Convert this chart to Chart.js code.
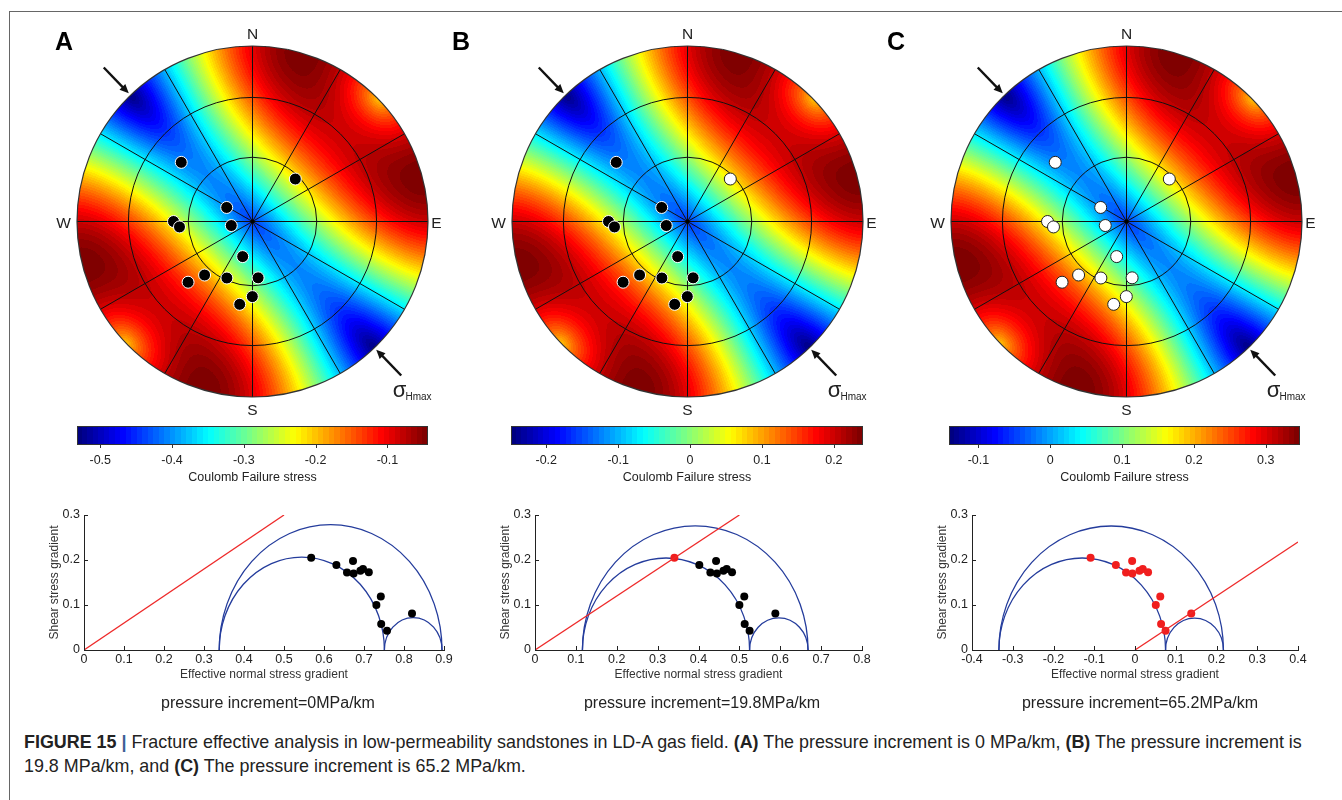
<!DOCTYPE html>
<html><head><meta charset="utf-8">
<script src="https://cdn.jsdelivr.net/npm/chart.js@4.4.1/dist/chart.umd.min.js"></script>
<style>
html,body{margin:0;padding:0;background:#fff;width:1342px;height:800px;overflow:hidden;font-family:"Liberation Sans",Arial,sans-serif;color:#222}
canvas{position:absolute}
#frame{position:absolute;left:9px;top:11px;width:2000px;height:2000px;border-left:1px solid #666;border-top:1px solid #666}
.t{position:absolute;transform:translate(-50%,-50%);white-space:nowrap;line-height:1;z-index:5}
.letter{position:absolute;font-weight:bold;font-size:25px;line-height:1;z-index:5;color:#000}
#cap{position:absolute;left:24px;top:730px;font-size:17.9px;line-height:24px;white-space:nowrap;color:#222;z-index:5}
</style></head><body>
<div id="frame"></div>
<div id="labels"></div>
<div id="cap"><b>FIGURE 15</b> <b style="color:#3d5f95">|</b> Fracture effective analysis in low-permeability sandstones in LD-A gas field. <b>(A)</b> The pressure increment is 0 MPa/km, <b>(B)</b> The pressure increment is<br>19.8 MPa/km, and <b>(C)</b> The pressure increment is 65.2 MPa/km.</div>
<script>
// ---------------- DATA ----------------
const panelNames = ['A', 'B', 'C'];
const compassLabels = ['N', 'E', 'S', 'W'];
const pressureTitles = ['pressure increment=0MPa/km', 'pressure increment=19.8MPa/km', 'pressure increment=65.2MPa/km'];

// fracture poles (equal-area stereonet, east / north, unit radius)
const poleX = [-0.406, 0.244, -0.147, -0.450, -0.416, -0.121, -0.056, -0.273, -0.367, -0.146, 0.032, -0.001, -0.073];
const poleY = [0.337, 0.242, 0.080, 0.000, -0.031, -0.023, -0.200, -0.305, -0.346, -0.322, -0.321, -0.428, -0.472];
const poleColorA = ['black','black','black','black','black','black','black','black','black','black','black','black','black'];
const poleColorB = ['black','white','black','black','black','black','black','black','black','black','black','black','black'];
const poleColorC = ['white','white','white','white','white','white','white','white','white','white','white','white','white'];

// stereonet grid
const dipRings = [30, 60];                 // degrees from vertical
const spokes = [0, 30, 60, 90, 120, 150, 180, 210, 240, 270, 300, 330];
const shmaxAz = 136;                       // sigma Hmax azimuth (deg)
const mu = 0.6;                            // friction coefficient

// colorbars
const cbarRangeA = [-0.5324, -0.0435];
const cbarRangeB = [-0.249, 0.2405];
const cbarRangeC = [-0.141, 0.3476];
const cbarTicksA = [-0.5, -0.4, -0.3, -0.2, -0.1];
const cbarTicksB = [-0.2, -0.1, 0, 0.1, 0.2];
const cbarTicksC = [-0.1, 0, 0.1, 0.2, 0.3];

// Mohr diagrams: principal effective stresses [s3, s2, s1]
const stressA = [0.338, 0.751, 0.895];
const stressB = [0.116, 0.525, 0.668];
const stressC = [-0.334, 0.075, 0.217];
const mohrAX = [0.568, 0.631, 0.6725, 0.6575, 0.674, 0.691, 0.6975, 0.712, 0.731, 0.742, 0.743, 0.7575, 0.820];
const mohrBX = [0.341, 0.402, 0.443, 0.429, 0.445, 0.461, 0.469, 0.482, 0.500, 0.512, 0.513, 0.525, 0.588];
const mohrCX = [-0.109, -0.047, -0.007, -0.022, -0.0065, 0.011, 0.019, 0.032, 0.051, 0.062, 0.064, 0.075, 0.138];
const mohrY  = [0.205, 0.189, 0.198, 0.172, 0.170, 0.176, 0.180, 0.173, 0.100, 0.119, 0.058, 0.043, 0.081];
const mohrColorA = ['black','black','black','black','black','black','black','black','black','black','black','black','black'];
const mohrColorB = ['red','black','black','black','black','black','black','black','black','black','black','black','black'];
const mohrColorC = ['red','red','red','red','red','red','red','red','red','red','red','red','red'];
const frictionXA = [0, 0.5], frictionYA = [0, 0.3];
const frictionXB = [0, 0.5], frictionYB = [0, 0.3];
const frictionXC = [0, 0.4], frictionYC = [0, 0.24];
const mohrXTicksA = [0, 0.1, 0.2, 0.3, 0.4, 0.5, 0.6, 0.7, 0.8, 0.9];
const mohrXTicksB = [0, 0.1, 0.2, 0.3, 0.4, 0.5, 0.6, 0.7, 0.8];
const mohrXTicksC = [-0.4, -0.3, -0.2, -0.1, 0, 0.1, 0.2, 0.3, 0.4];
const mohrYTicks = [0, 0.1, 0.2, 0.3];

// ---------------- LAYOUT ----------------
const FONT = "'Liberation Sans', Arial, sans-serif";
Chart.defaults.font.family = FONT;
Chart.defaults.color = '#222';
const layout = [
  {cx: 252.5, cy: 221.5, cbar: [77, 428, 426, 445], mohr: [84, 444, 515, 650], title: [268, 703], letter: [55, 29]},
  {cx: 687.5, cy: 221.5, cbar: [511, 863, 426, 445], mohr: [535, 862, 515, 650], title: [702, 703], letter: [452, 29]},
  {cx: 1126.5, cy: 221.5, cbar: [949, 1300, 426, 445], mohr: [972, 1298, 515, 650], title: [1140, 703], letter: [887, 29]}
];
const R = 175.5;

function jet(f) {
  const q = Math.round(Math.max(0, Math.min(1, f)) * 63) / 63;
  const c = v => Math.round(255 * Math.max(0, Math.min(1, v)));
  return [c(1.5 - Math.abs(4 * q - 3)), c(1.5 - Math.abs(4 * q - 2)), c(1.5 - Math.abs(4 * q - 1))];
}

// Coulomb failure stress of a pole from the panel-A stress state
function cfsAt(e, n) {
  const r = Math.hypot(e, n);
  const th = 2 * Math.asin(Math.min(1, r / Math.SQRT2));
  const az = Math.atan2(e, n);
  const h = Math.sin(th), v = Math.cos(th);
  const a1 = shmaxAz * Math.PI / 180;
  const n1 = h * Math.cos(az - a1), n3 = h * Math.sin(az - a1), n2 = v;
  const [s3, s2, s1] = stressA;
  const sn = s1 * n1 * n1 + s2 * n2 * n2 + s3 * n3 * n3;
  const t2 = s1 * s1 * n1 * n1 + s2 * s2 * n2 * n2 + s3 * s3 * n3 * n3;
  return Math.sqrt(Math.max(0, t2 - sn * sn)) - mu * sn;
}
const cfsMin = -mu * stressA[2];

function place(cv, left, top, w, h) {
  cv.width = w; cv.height = h;
  cv.style.left = left + 'px'; cv.style.top = top + 'px';
  cv.style.width = w + 'px'; cv.style.height = h + 'px';
  document.body.appendChild(cv);
}
function label(text, x, y, size, extra) {
  const d = document.createElement('div');
  d.className = 't';
  d.style.left = x + 'px'; d.style.top = y + 'px'; d.style.fontSize = size + 'px';
  if (extra) Object.assign(d.style, extra);
  d.innerHTML = text;
  document.getElementById('labels').appendChild(d);
}

const stereoPlugin = {
  id: 'stereo',
  beforeDatasetsDraw(chart) {
    const {ctx, scales: {x, y}} = chart;
    const cx = x.getPixelForValue(0), cy = y.getPixelForValue(0);
    const rp = x.getPixelForValue(1) - cx;
    const x0 = Math.floor(cx - rp) - 1, y0 = Math.floor(cy - rp) - 1;
    const size = Math.ceil(2 * rp) + 3;
    const off = document.createElement('canvas');
    off.width = size; off.height = size;
    const octx = off.getContext('2d');
    const img = octx.createImageData(size, size);
    const range = chart.options.cbarRange;
    for (let py = 0; py < size; py++) {
      for (let px = 0; px < size; px++) {
        const e = x.getValueForPixel(x0 + px + 0.5), n = y.getValueForPixel(y0 + py + 0.5);
        if (e * e + n * n > 1) continue;
        const val = cfsAt(e, n) - cfsMin + range[0];
        const col = jet((val - range[0]) / (range[1] - range[0]));
        const k = (py * size + px) * 4;
        img.data[k] = col[0]; img.data[k + 1] = col[1]; img.data[k + 2] = col[2]; img.data[k + 3] = 255;
      }
    }
    octx.putImageData(img, 0, 0);
    ctx.save();
    ctx.drawImage(off, x0, y0);
    // grid
    ctx.strokeStyle = '#111'; ctx.lineWidth = 1;
    dipRings.forEach(d => {
      const rr = Math.SQRT2 * Math.sin(d * Math.PI / 360);
      ctx.beginPath();
      ctx.arc(cx, cy, x.getPixelForValue(rr) - cx, 0, 2 * Math.PI);
      ctx.stroke();
    });
    spokes.forEach(a => {
      const t = a * Math.PI / 180;
      ctx.beginPath();
      ctx.moveTo(cx, cy);
      ctx.lineTo(x.getPixelForValue(Math.sin(t)), y.getPixelForValue(Math.cos(t)));
      ctx.stroke();
    });
    ctx.strokeStyle = '#333'; ctx.lineWidth = 1.2;
    ctx.beginPath(); ctx.arc(cx, cy, rp, 0, 2 * Math.PI); ctx.stroke();
    ctx.fillStyle = '#000';
    ctx.beginPath(); ctx.arc(cx, cy, 2, 0, 2 * Math.PI); ctx.fill();
    // sigma Hmax arrows
    ctx.strokeStyle = '#111'; ctx.fillStyle = '#111'; ctx.lineWidth = 2.4;
    [shmaxAz + 180, shmaxAz].forEach(a => {
      const t = a * Math.PI / 180;
      const x1 = x.getPixelForValue(1.22 * Math.sin(t)), y1 = y.getPixelForValue(1.22 * Math.cos(t));
      const x2 = x.getPixelForValue(1.015 * Math.sin(t)), y2 = y.getPixelForValue(1.015 * Math.cos(t));
      const ang = Math.atan2(y2 - y1, x2 - x1), L = 10, W = 0.42;
      ctx.beginPath(); ctx.moveTo(x1, y1);
      ctx.lineTo(x2 - 6 * Math.cos(ang), y2 - 6 * Math.sin(ang)); ctx.stroke();
      ctx.beginPath(); ctx.moveTo(x2, y2);
      ctx.lineTo(x2 - L * Math.cos(ang - W), y2 - L * Math.sin(ang - W));
      ctx.lineTo(x2 - L * Math.cos(ang + W), y2 - L * Math.sin(ang + W));
      ctx.closePath(); ctx.fill();
    });
    ctx.restore();
  }
};

const cbarPlugin = {
  id: 'cbar',
  beforeDatasetsDraw(chart) {
    const {ctx, chartArea: ca, scales: {x}} = chart;
    const [lo, hi] = chart.options.cbarRange;
    const N = 64;
    for (let i = 0; i < N; i++) {
      const a = x.getPixelForValue(lo + (hi - lo) * i / N), b = x.getPixelForValue(lo + (hi - lo) * (i + 1) / N);
      const c = jet(i / (N - 1));
      ctx.fillStyle = `rgb(${c[0]},${c[1]},${c[2]})`;
      ctx.fillRect(Math.floor(a), ca.top, Math.ceil(b) - Math.floor(a), ca.bottom - ca.top);
    }
    ctx.strokeStyle = '#333'; ctx.lineWidth = 1;
    ctx.strokeRect(ca.left + 0.5, ca.top + 0.5, ca.right - ca.left - 1, ca.bottom - ca.top - 1);
    ctx.beginPath();
    x.ticks.forEach(t => {
      const px = Math.round(x.getPixelForValue(t.value)) + 0.5;
      ctx.moveTo(px, ca.bottom); ctx.lineTo(px, ca.bottom + 3);
    });
    ctx.stroke();
  }
};

const mohrPlugin = {
  id: 'mohr',
  beforeDatasetsDraw(chart) {
    const {ctx, scales: {x, y}} = chart;
    const [s3, s2, s1] = chart.options.stress;
    const y0 = y.getPixelForValue(0);
    ctx.save();
    ctx.strokeStyle = '#243c9c'; ctx.lineWidth = 1.3;
    [[s3, s1], [s3, s2], [s2, s1]].forEach(([a, b]) => {
      const c = (a + b) / 2, rad = (b - a) / 2;
      const pcx = x.getPixelForValue(c);
      const rx = x.getPixelForValue(c + rad) - pcx;
      const ry = y0 - y.getPixelForValue(rad);
      ctx.beginPath();
      ctx.ellipse(pcx, y0, rx, ry, 0, Math.PI, 2 * Math.PI);
      ctx.stroke();
    });
    ctx.restore();
  },
  afterDraw(chart) {
    const {ctx, chartArea: ca, scales: {x, y}} = chart;
    ctx.save();
    ctx.strokeStyle = '#222'; ctx.lineWidth = 1;
    ctx.beginPath();
    x.ticks.forEach(t => {
      const px = Math.round(x.getPixelForValue(t.value)) + 0.5;
      ctx.moveTo(px, ca.bottom); ctx.lineTo(px, ca.bottom - 4);
    });
    y.ticks.forEach(t => {
      const py = Math.round(y.getPixelForValue(t.value)) + 0.5;
      ctx.moveTo(ca.left, py); ctx.lineTo(ca.left + 4, py);
    });
    ctx.stroke();
    ctx.restore();
  }
};

const fmt = v => String(+Number(v).toFixed(2));
const commonOpts = {responsive: false, animation: false, events: [], devicePixelRatio: 1,
  plugins: {legend: {display: false}, tooltip: {enabled: false}}};

const poleColors = [poleColorA, poleColorB, poleColorC];
const cbarRanges = [cbarRangeA, cbarRangeB, cbarRangeC];
const cbarTicks = [cbarTicksA, cbarTicksB, cbarTicksC];
const stresses = [stressA, stressB, stressC];
const mohrXs = [mohrAX, mohrBX, mohrCX];
const mohrColors = [mohrColorA, mohrColorB, mohrColorC];
const frictionX = [frictionXA, frictionXB, frictionXC];
const frictionY = [frictionYA, frictionYB, frictionYC];
const mohrXTicks = [mohrXTicksA, mohrXTicksB, mohrXTicksC];

panelNames.forEach((name, p) => {
  const L = layout[p];
  // ---- stereonet ----
  const P = 45, S = Math.round(2 * R) + 2 * P;
  const cv = document.createElement('canvas');
  place(cv, Math.round(L.cx - S / 2), Math.round(L.cy - S / 2), S, S);
  new Chart(cv, {
    type: 'scatter',
    data: {datasets: [{
      data: poleX.map((v, i) => ({x: v, y: poleY[i]})),
      pointRadius: 6, pointBorderWidth: 1,
      pointBackgroundColor: poleColors[p],
      pointBorderColor: poleColors[p].map(c => c === 'white' ? '#222' : '#fff')
    }]},
    options: Object.assign({}, commonOpts, {
      cbarRange: cbarRanges[p],
      layout: {padding: P},
      scales: {x: {display: false, min: -1, max: 1}, y: {display: false, min: -1, max: 1}}
    }),
    plugins: [stereoPlugin]
  });
  // compass + annotations
  label(compassLabels[0], L.cx, L.cy - 188, 15.5);
  label(compassLabels[1], L.cx + 184, L.cy + 1.5, 15.5);
  label(compassLabels[2], L.cx, L.cy + 188, 15.5);
  label(compassLabels[3], L.cx - 189, L.cy + 1.5, 15.5);
  label('σ', L.cx + 147, L.cy + 168, 22);
  label('Hmax', L.cx + 166, L.cy + 175, 10);
  const le = document.createElement('div');
  le.className = 'letter'; le.textContent = name;
  le.style.left = L.letter[0] + 'px'; le.style.top = L.letter[1] + 'px';
  document.body.appendChild(le);

  // ---- colorbar ----
  const [cl, cr, ct, cb] = L.cbar;
  const padL = 20, padR = 20, padT = 4, xH = 44;
  const cc = document.createElement('canvas');
  place(cc, cl - padL, ct - padT, (cr - cl) + padL + padR, (cb - ct) + padT + xH);
  new Chart(cc, {
    type: 'scatter', data: {datasets: []},
    options: Object.assign({}, commonOpts, {
      cbarRange: cbarRanges[p],
      layout: {padding: {left: padL, right: padR, top: padT, bottom: 0}},
      scales: {
        x: {type: 'linear', position: 'bottom', min: cbarRanges[p][0], max: cbarRanges[p][1],
          grid: {display: false, drawTicks: false}, border: {display: false},
          ticks: {padding: 8, autoSkip: false, maxRotation: 0, font: {size: 12.5}, color: '#222', callback: fmt},
          afterBuildTicks: s => { s.ticks = cbarTicks[p].map(v => ({value: v})); },
          afterFit: s => { s.height = xH; },
          title: {display: true, text: 'Coulomb Failure stress', font: {size: 12.5}, color: '#222', padding: {top: 0, bottom: 4}}},
        y: {display: false, min: 0, max: 1}
      }
    }),
    plugins: [cbarPlugin]
  });

  // ---- Mohr diagram ----
  const [ml, mr, mt, mb] = L.mohr;
  const yW = 41, mxH = 36, pT = 12, pR = 24;
  const cm = document.createElement('canvas');
  place(cm, ml - yW, mt - pT, (mr - ml) + yW + pR, (mb - mt) + pT + mxH);
  const xt = mohrXTicks[p];
  new Chart(cm, {
    type: 'scatter',
    data: {datasets: [
      {data: frictionX[p].map((v, i) => ({x: v, y: frictionY[p][i]})), showLine: true,
       borderColor: '#ee2a2a', borderWidth: 1.3, pointRadius: 0},
      {data: mohrXs[p].map((v, i) => ({x: v, y: mohrY[i]})), pointRadius: 4, pointBorderWidth: 0,
       pointBackgroundColor: mohrColors[p].map(c => c === 'red' ? '#f01e1e' : '#000')}
    ]},
    options: Object.assign({}, commonOpts, {
      stress: stresses[p],
      layout: {padding: {left: 0, right: pR, top: pT, bottom: 0}},
      scales: {
        x: {type: 'linear', min: xt[0], max: xt[xt.length - 1],
          grid: {display: false, drawTicks: false}, border: {display: true, color: '#222', width: 1},
          ticks: {padding: 2, autoSkip: false, maxRotation: 0, font: {size: 12.5}, color: '#222', callback: fmt},
          afterBuildTicks: s => { s.ticks = xt.map(v => ({value: v})); },
          afterFit: s => { s.height = mxH; },
          title: {display: true, text: 'Effective normal stress gradient', font: {size: 12}, color: '#333', padding: {top: 0, bottom: 4}}},
        y: {type: 'linear', min: 0, max: 0.3,
          grid: {display: false, drawTicks: false}, border: {display: true, color: '#222', width: 1},
          ticks: {padding: 4, autoSkip: false, font: {size: 12.5}, color: '#222', callback: fmt},
          afterBuildTicks: s => { s.ticks = mohrYTicks.map(v => ({value: v})); },
          afterFit: s => { s.width = yW; },
          title: {display: true, text: 'Shear stress gradient', font: {size: 12}, color: '#333', padding: {top: 4, bottom: 0}}}
      }
    }),
    plugins: [mohrPlugin]
  });
  label(pressureTitles[p], L.title[0], L.title[1], 16);
});
</script>
</body></html>
